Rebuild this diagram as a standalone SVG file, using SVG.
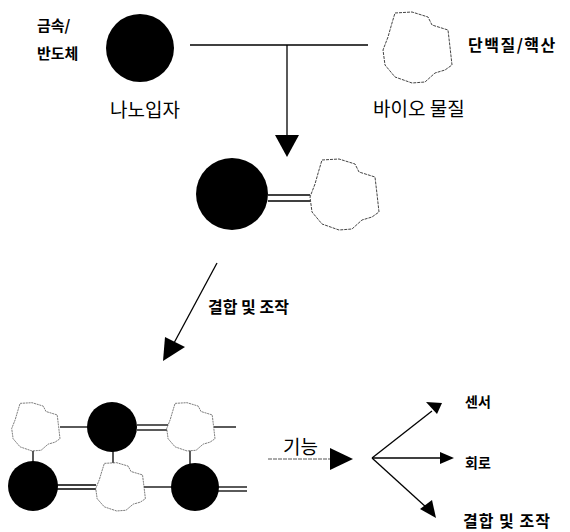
<svg xmlns="http://www.w3.org/2000/svg" width="570" height="532" viewBox="0 0 570 532">
<style>
.ball{fill:#000}
.blob{fill:#fff;stroke:#444;stroke-width:1;stroke-dasharray:3 1}
.ln{stroke:#000;stroke-width:1.3;fill:none}
.ah{fill:#000}
.t{font-family:"Noto Sans CJK KR","Noto Sans",sans-serif;fill:#000}
.b{font-weight:bold}
</style>
<defs>
<path id="blobShape" d="M13,2 L30,1 L46,6 L50,14 L66,19 L68,36 L70,54 L63,59 L53,62 L43,71 L30,72 L13,66 L3,54 L1,39 L6,26 L10,12 Z"/>
</defs>
<g id="connectors">
<line class="ln" x1="190" y1="45" x2="368" y2="45"/>
<line class="ln" x1="287" y1="45" x2="287" y2="136"/>
<polygon class="ah" points="275,135 299,135 287,157"/>
<line class="ln" x1="268" y1="195" x2="310" y2="195"/>
<line class="ln" x1="268" y1="201" x2="310" y2="201"/>
<line class="ln" x1="217" y1="263" x2="174" y2="343"/>
<polygon class="ah" points="165,337 185,347 163,361"/>
<line class="ln" x1="60" y1="427" x2="88" y2="427"/>
<line class="ln" x1="137" y1="425" x2="168" y2="425"/>
<line class="ln" x1="137" y1="430" x2="168" y2="430"/>
<line class="ln" x1="214" y1="427" x2="236" y2="427"/>
<line class="ln" x1="33" y1="449" x2="33" y2="462"/>
<line class="ln" x1="113" y1="451" x2="113" y2="463"/>
<line class="ln" x1="190" y1="449" x2="190" y2="464"/>
<line class="ln" x1="57" y1="485" x2="96" y2="485"/>
<line class="ln" x1="57" y1="489" x2="96" y2="489"/>
<line class="ln" x1="144" y1="487" x2="172" y2="487"/>
<line class="ln" x1="218" y1="487" x2="247" y2="487"/>
<line class="ln" x1="218" y1="491" x2="247" y2="491"/>
<line x1="268" y1="459" x2="331" y2="459" stroke="#555" stroke-width="1" stroke-dasharray="4 1"/>
<polygon class="ah" points="330,448 330,470 353,459"/>
<line class="ln" x1="372" y1="458" x2="432" y2="411"/>
<polygon class="ah" points="426,402 437,414 442,403"/>
<line class="ln" x1="372" y1="458" x2="441" y2="458"/>
<polygon class="ah" points="440,452 440,464 454,458"/>
<line class="ln" x1="372" y1="458" x2="427" y2="508"/>
<polygon class="ah" points="420,509 432,500 436,518"/>
</g>
<g id="np1"><circle class="ball" cx="140" cy="48" r="34"/></g>
<g id="bio1"><use href="#blobShape" class="blob" transform="translate(382,11)"/></g>
<g id="pair">
<circle class="ball" cx="232" cy="194" r="36"/>
<use href="#blobShape" class="blob" transform="translate(309,158)"/>
</g>
<g id="network">
<use href="#blobShape" class="blob" transform="translate(11,402) scale(0.7,0.68)"/>
<circle class="ball" cx="112" cy="427" r="25"/>
<use href="#blobShape" class="blob" transform="translate(166,402) scale(0.7,0.68)"/>
<circle class="ball" cx="33" cy="486" r="25"/>
<use href="#blobShape" class="blob" transform="translate(95,462) scale(0.72,0.68)"/>
<circle class="ball" cx="195" cy="487" r="24"/>
</g>
<g id="labels">
<text class="t b" x="37" y="31" font-size="15">금속/</text>
<text class="t b" x="37" y="59" font-size="15">반도체</text>
<text class="t" x="110" y="117" font-size="19">나노입자</text>
<text class="t b" x="468" y="51" font-size="16" letter-spacing="1.5">단백질/핵산</text>
<text class="t" x="373" y="116" font-size="19">바이오 물질</text>
<text class="t b" x="208" y="313" font-size="16">결합 및 조작</text>
<text class="t" x="283" y="454" font-size="19">기능</text>
<text class="t b" x="465" y="407" font-size="14">센서</text>
<text class="t b" x="465" y="468" font-size="14">회로</text>
<text class="t b" x="463" y="527" font-size="16" letter-spacing="1">결합 및 조작</text>
</g>
</svg>
